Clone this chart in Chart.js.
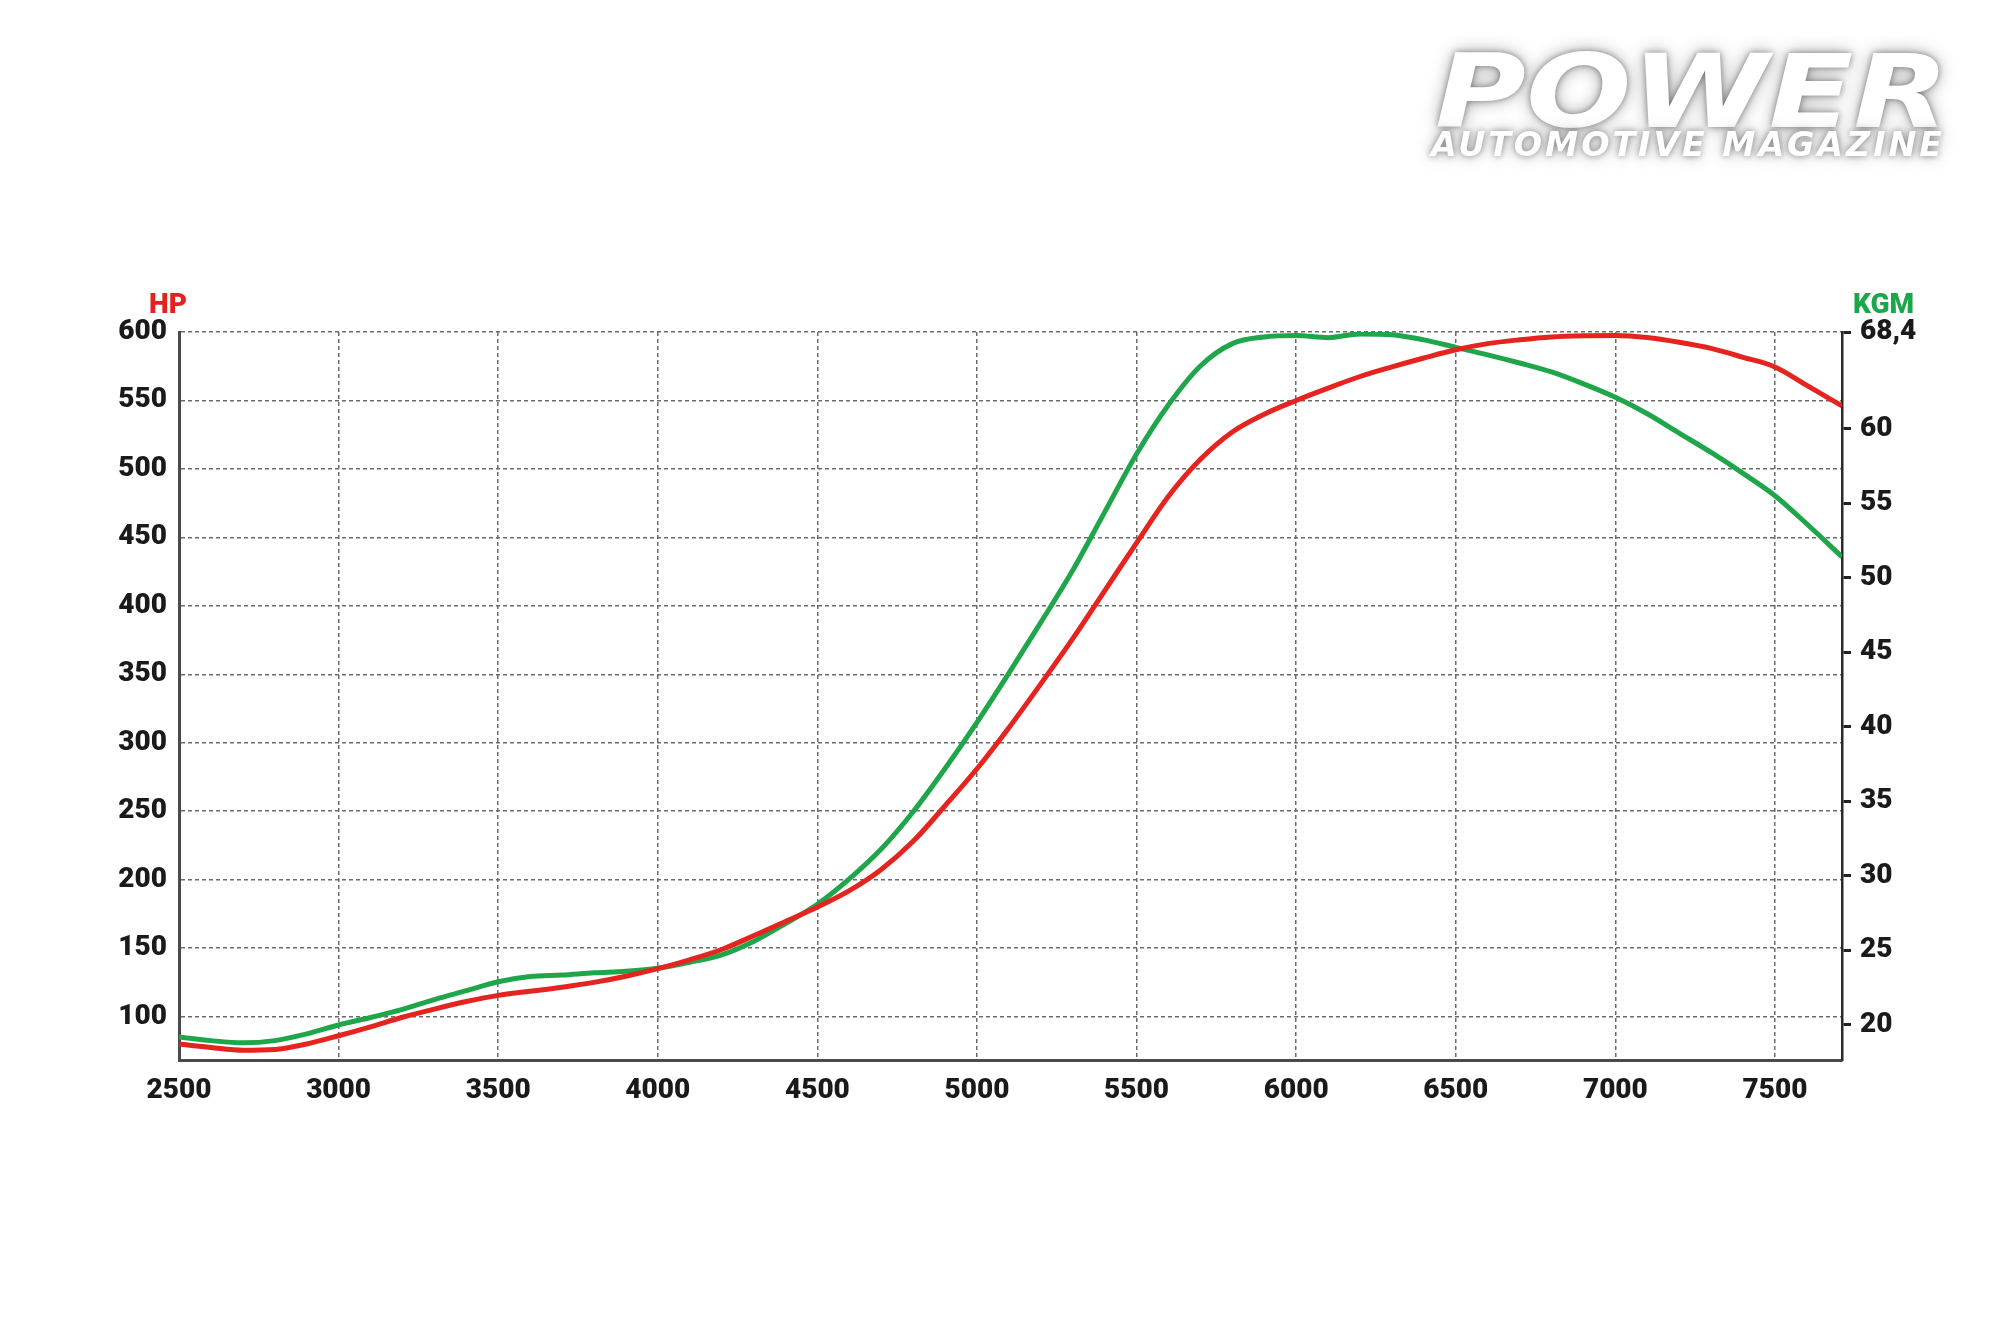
<!DOCTYPE html>
<html>
<head>
<meta charset="utf-8">
<title>Curva de potencia y par</title>
<script src="https://cdn.jsdelivr.net/npm/chart.js@4.4.1/dist/chart.umd.min.js"></script>
<style>
  html, body { margin: 0; padding: 0; background: #fff; }
  #lienzo { position: relative; width: 2000px; height: 1333px; overflow: hidden; }
  #grafica { position: absolute; left: 0; top: 0; }
  .titulo-eje {
    position: absolute;
    font-family: Roboto, 'DejaVu Sans', sans-serif;
    font-weight: 900; font-size: 28px; line-height: 1;
  }
  #tituloHP { left: 149px; top: 290px; color: #e3221f; }
  #tituloKGM { left: 1853px; top: 290px; color: #1ca64a; }
  .logo {
    position: absolute; color: #fff; white-space: nowrap; line-height: 1;
    font-family: 'DejaVu Sans', sans-serif; font-weight: bold; font-style: italic;
    transform-origin: left top;
    text-shadow: 0 0 6px rgba(0,0,0,.4), 0 0 16px rgba(0,0,0,.35);
  }
  #logoPower { left: 1435px; top: 42px; font-size: 101px; }
  #logoSub { left: 1431px; top: 127px; font-size: 34px; letter-spacing: 3px; }
</style>
</head>
<body>
<div id="lienzo">
  <canvas id="grafica" width="2000" height="1333"></canvas>
  <div class="titulo-eje" id="tituloHP">HP</div>
  <div class="titulo-eje" id="tituloKGM">KGM</div>
  <div class="logo" id="logoPower">POWER</div>
  <div class="logo" id="logoSub">AUTOMOTIVE MAGAZINE</div>
</div>
<script>
// Datos
const rpm = [2500, 2600, 2700, 2800, 2900, 3000, 3100, 3200, 3300, 3400,
  3500, 3600, 3700, 3800, 3900, 4000, 4100, 4200, 4300, 4400,
  4500, 4600, 4700, 4800, 4900, 5000, 5100, 5200, 5300, 5400,
  5500, 5600, 5700, 5800, 5900, 6000, 6100, 6200, 6300, 6400,
  6500, 6600, 6700, 6800, 6900, 7000, 7100, 7200, 7300, 7400,
  7500, 7600, 7710];

const potenciaHP = [80, 77.5, 75.5, 76, 80, 86, 92.5, 99.5, 105.5, 111,
  115.5, 118.5, 121.5, 125, 129.5, 135, 141.5, 149, 159, 169.5,
  180, 192, 207.5, 228, 254, 281, 311, 343, 376, 411,
  446, 480, 507, 527, 540, 550, 559, 567.5, 574.5, 581,
  587, 591.5, 594.3, 596.4, 597.3, 597.5, 596, 592.5, 588, 581.5,
  574.5, 561, 546];

const parKGM = [19.2, 18.95, 18.8, 18.95, 19.4, 20.0, 20.5, 21.05, 21.7, 22.3,
  22.9, 23.25, 23.35, 23.5, 23.6, 23.8, 24.2, 24.7, 25.6, 26.8,
  28.1, 29.8, 31.8, 34.3, 37.2, 40.3, 43.6, 47.0, 50.5, 54.4,
  58.3, 61.6, 64.2, 65.7, 66.15, 66.25, 66.1, 66.35, 66.3, 65.95,
  65.45, 64.95, 64.4, 63.8, 63.0, 62.1, 61.0, 59.7, 58.4, 57.0,
  55.5, 53.6, 51.4];

const ticksRPM = [2500, 3000, 3500, 4000, 4500, 5000, 5500, 6000, 6500, 7000, 7500];
const ticksHP = [100, 150, 200, 250, 300, 350, 400, 450, 500, 550, 600];
const ticksKGM = [20, 25, 30, 35, 40, 45, 50, 55, 60];

// Rangos de los ejes
const rpmMin = 2500, rpmMax = 7710;
const hpMin = 68.3, hpMax = 600;
const kgmMin = 17.65, kgmMax = 66.48;
const etiquetaMaxKGM = '68,4';

const rojo = '#e5231f';
const verde = '#1fa64b';
const colorGrid = '#6b6b6b';

const fuenteEjes = {
  family: "Roboto, 'DejaVu Sans', sans-serif",
  size: 28,
  weight: '900'
};

new Chart(document.getElementById('grafica'), {
  type: 'line',
  data: {
    datasets: [
      {
        label: 'HP',
        data: rpm.map((r, i) => ({ x: r, y: potenciaHP[i] })),
        yAxisID: 'y',
        borderColor: rojo,
        borderWidth: 5,
        pointRadius: 0,
        fill: false,
        cubicInterpolationMode: 'monotone'
      },
      {
        label: 'KGM',
        data: rpm.map((r, i) => ({ x: r, y: parKGM[i] })),
        yAxisID: 'y1',
        borderColor: verde,
        borderWidth: 5,
        pointRadius: 0,
        fill: false,
        cubicInterpolationMode: 'monotone'
      }
    ]
  },
  options: {
    responsive: false,
    animation: false,
    devicePixelRatio: 1,
    layout: { padding: { top: 332, left: 0, right: 0, bottom: 0 } },
    plugins: {
      legend: { display: false },
      tooltip: { enabled: false }
    },
    scales: {
      x: {
        type: 'linear',
        min: rpmMin,
        max: rpmMax,
        afterBuildTicks: s => { s.ticks = ticksRPM.map(v => ({ value: v })); },
        afterFit: s => { s.height = 273; },
        ticks: {
          font: fuenteEjes, color: '#1a1a1a', padding: 14, maxRotation: 0, autoSkip: false,
          callback: v => String(v)
        },
        grid: { color: colorGrid, lineWidth: 1.5, drawTicks: false },
        border: { color: '#4a4a4a', width: 3, dash: [4, 3] }
      },
      y: {
        position: 'left',
        min: hpMin,
        max: hpMax,
        afterBuildTicks: s => { s.ticks = ticksHP.map(v => ({ value: v })); },
        afterFit: s => { s.width = 179; },
        ticks: { font: fuenteEjes, color: '#1a1a1a', padding: 12 },
        grid: { color: colorGrid, lineWidth: 1.5, drawTicks: false },
        border: { color: '#4a4a4a', width: 3, dash: [4, 3] }
      },
      y1: {
        position: 'right',
        min: kgmMin,
        max: kgmMax,
        afterBuildTicks: s => { s.ticks = ticksKGM.concat([kgmMax]).map(v => ({ value: v })); },
        afterFit: s => { s.width = 158; },
        ticks: {
          font: fuenteEjes,
          color: '#1a1a1a',
          padding: 9,
          callback: v => (v === kgmMax ? etiquetaMaxKGM : String(v))
        },
        grid: { drawOnChartArea: false, drawTicks: true, tickLength: 9, tickWidth: 3, tickColor: '#222' },
        border: { color: '#2a2a2a', width: 2.5 }
      }
    }
  }
});

// Ajustar el ancho del logo
function ajustarAncho(id, ancho) {
  const el = document.getElementById(id);
  const w = el.getBoundingClientRect().width;
  el.style.transform = 'scaleX(' + (ancho / w) + ')';
}
ajustarAncho('logoPower', 514);
ajustarAncho('logoSub', 514);
</script>
</body>
</html>
